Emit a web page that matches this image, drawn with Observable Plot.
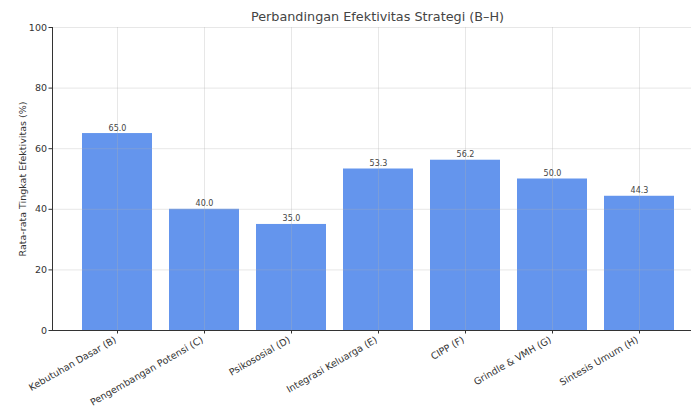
<!DOCTYPE html>
<html>
<head>
<meta charset="utf-8">
<script src="https://cdn.jsdelivr.net/npm/d3@7"></script>
<script src="https://cdn.jsdelivr.net/npm/@observablehq/plot@0.6"></script>
<style>
  html, body { margin: 0; padding: 0; background: #fff; overflow: hidden; }
  figure { margin: 0; }
  h2 {
    margin: 0; height: 20px; line-height: 20px; padding-left: 64px; padding-top: 7px;
    box-sizing: border-box;
    text-align: center; font-family: "DejaVu Sans", sans-serif; font-size: 12.8px;
    font-weight: normal; color: #444; width: 691px;
  }
</style>
</head>
<body>
<div id="chart"></div>
<script>
const title = "Perbandingan Efektivitas Strategi (B–H)";
const yLabel = "Rata-rata Tingkat Efektivitas (%)";
const categories = ["Kebutuhan Dasar (B)", "Pengembangan Potensi (C)", "Psikososial (D)", "Integrasi Keluarga (E)", "CIPP (F)", "Grindle & VMH (G)", "Sintesis Umum (H)"];
const values = [65.0, 40.0, 35.0, 53.3, 56.2, 50.0, 44.3];
const yTicks = [0, 20, 40, 60, 80, 100];

const data = categories.map((c, i) => ({category: c, value: values[i]}));

const chart = Plot.plot({
  title,
  width: 691,
  height: 387,
  marginTop: 7,
  marginLeft: 52,
  marginRight: -12,
  marginBottom: 77,
  style: {fontFamily: "DejaVu Sans, sans-serif", fontSize: "9px", color: "#333", background: "#fff"},
  x: {domain: categories, paddingInner: 0.2, paddingOuter: 0.34, label: null},
  y: {domain: [0, 100], label: null},
  marks: [
    Plot.barY(data, {x: "category", y: "value", fill: "#6495ED"}),
    Plot.gridY(yTicks, {stroke: "#b0b0b0", strokeOpacity: 0.3}),
    Plot.gridX(categories, {stroke: "#b0b0b0", strokeOpacity: 0.3}),
    Plot.text(data, {x: "category", y: "value", text: d => d.value.toFixed(1), lineAnchor: "bottom", dy: -3, fontSize: 8, fill: "#444"}),
    Plot.axisY(yTicks, {tickSize: 3.5, tickPadding: 2, label: yLabel, labelAnchor: "center", labelArrow: "none", labelOffset: 33, fontSize: 9.5}),
    Plot.axisX({tickSize: 3.5, tickFormat: () => "", label: null}),
    Plot.axisX({tickSize: 0, tickPadding: 5.5, tickRotate: -30, fontSize: 9.5, dx: -2, dy: 3, label: null}),
    Plot.ruleY([0], {stroke: "#333"}),
    Plot.frame({anchor: "left", stroke: "#333"})
  ]
});
document.getElementById("chart").appendChild(chart);
</script>
</body>
</html>
